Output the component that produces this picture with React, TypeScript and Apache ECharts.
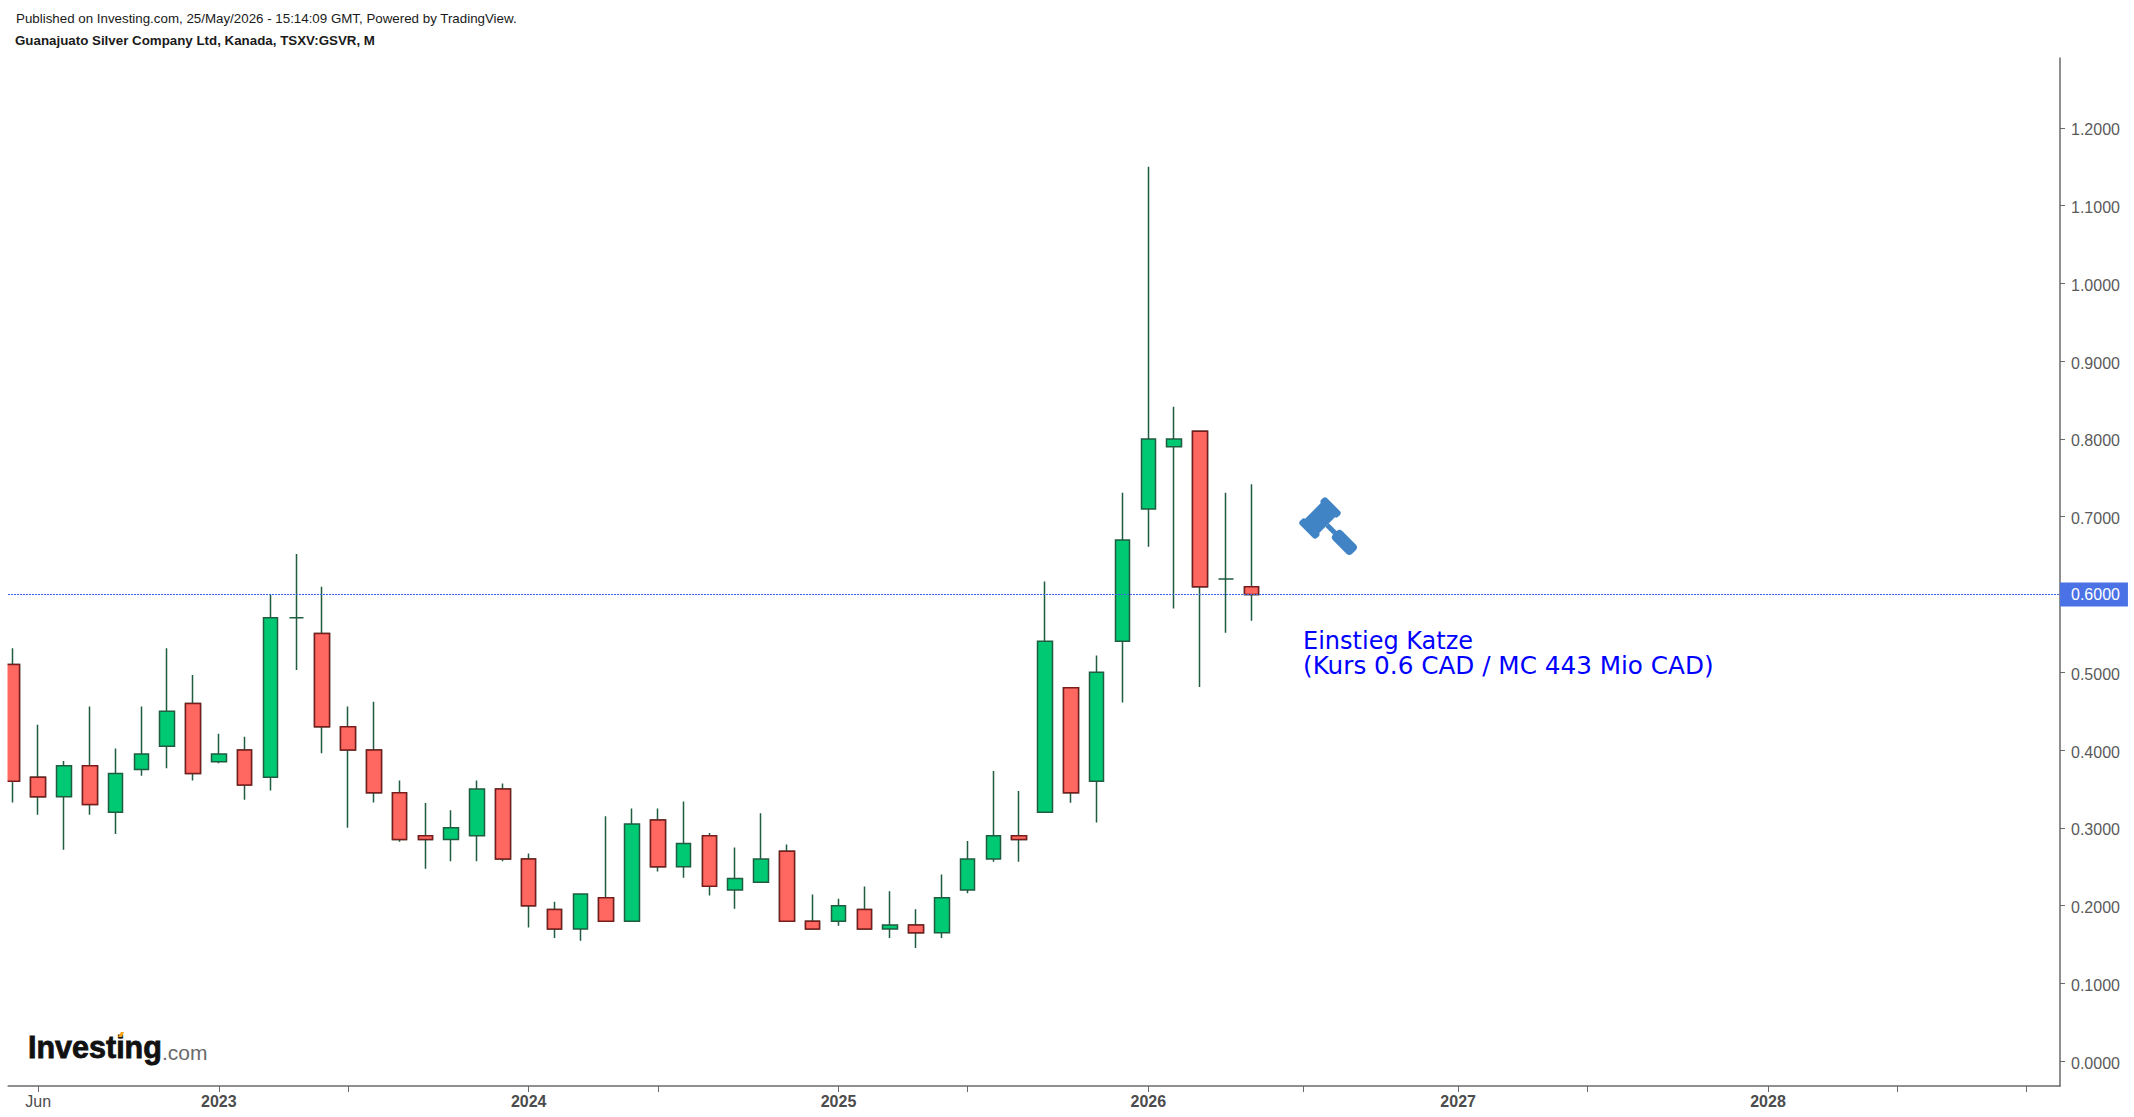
import React, { useEffect, useRef } from "react";
import * as echarts from "echarts";

// Month index 0 = May 2022
const months = [
  "May 22","Jun 22","Jul 22","Aug 22","Sep 22","Oct 22","Nov 22","Dec 22",
  "Jan 23","Feb 23","Mar 23","Apr 23","May 23","Jun 23","Jul 23","Aug 23","Sep 23","Oct 23","Nov 23","Dec 23",
  "Jan 24","Feb 24","Mar 24","Apr 24","May 24","Jun 24","Jul 24","Aug 24","Sep 24","Oct 24","Nov 24","Dec 24",
  "Jan 25","Feb 25","Mar 25","Apr 25","May 25","Jun 25","Jul 25","Aug 25","Sep 25","Oct 25","Nov 25","Dec 25",
  "Jan 26","Feb 26","Mar 26","Apr 26","May 26",
];
const opens = [
  0.51,0.365,0.34,0.38,0.32,0.375,0.405,0.46,
  0.385,0.40,0.365,0.57,0.55,0.43,0.40,0.345,0.29,0.285,0.29,0.35,
  0.26,0.195,0.17,0.21,0.18,0.31,0.25,0.29,0.22,0.23,0.27,0.18,
  0.18,0.195,0.17,0.175,0.165,0.22,0.26,0.29,0.32,0.48,0.36,0.54,
  0.71,0.79,0.81,0.62,0.61,
];
const closes = [
  0.36,0.34,0.38,0.33,0.37,0.395,0.45,0.37,
  0.395,0.355,0.57,0.57,0.43,0.40,0.345,0.285,0.285,0.30,0.35,0.26,
  0.20,0.17,0.215,0.18,0.305,0.25,0.28,0.225,0.235,0.26,0.18,0.17,
  0.20,0.17,0.175,0.165,0.21,0.26,0.29,0.285,0.54,0.345,0.50,0.67,
  0.80,0.80,0.61,0.62,0.60,
];
const lows = [
  0.3325,0.317,0.272,0.317,0.292,0.367,0.3765,0.361,
  0.383,0.336,0.348,0.503,0.396,0.30,0.3325,0.282,0.2475,0.257,0.257,0.257,
  0.172,0.1585,0.155,0.18,0.18,0.244,0.236,0.213,0.196,0.2305,0.18,0.1705,
  0.174,0.1705,0.1585,0.1457,0.1585,0.216,0.2565,0.2563,0.32,0.3323,0.307,0.4613,
  0.6613,0.582,0.4811,0.5507,0.5664,
];
const highs = [
  0.531,0.4325,0.386,0.456,0.402,0.456,0.531,0.4966,
  0.421,0.417,0.60,0.652,0.61,0.456,0.462,0.361,0.332,0.3225,0.361,0.357,
  0.267,0.205,0.215,0.315,0.325,0.325,0.334,0.2935,0.2746,0.3188,0.2785,0.2142,
  0.209,0.2245,0.2185,0.1954,0.24,0.283,0.373,0.3475,0.6166,0.4811,0.5217,0.7308,
  1.15,0.8414,0.811,0.7308,0.7419,
];
const priceLevel = 0.6;
const priceTicks = [0, 0.1, 0.2, 0.3, 0.4, 0.5, 0.6, 0.7, 0.8, 0.9, 1.0, 1.1, 1.2];
const priceLabels = [0, 0.1, 0.2, 0.3, 0.4, 0.5, 0.7, 0.8, 0.9, 1.0, 1.1, 1.2];
const timeTicks = [1, 8, 13, 20, 25, 32, 37, 44, 50, 56, 61, 68, 73, 78];
const timeLabelPositions = [1, 8, 20, 32, 44, 56, 68];
const timeLabelTexts = ["Jun", "2023", "2024", "2025", "2026", "2027", "2028"];

const FONT = "'Liberation Sans', Arial, sans-serif";
const AXIS = "#6a6a6a";
const UP = "#00c973";
const DOWN = "#ff6860";
const WICK = "#1f5c40";
const DOWN_EDGE = "#7a1c1c";
const PRICE = "#4a72e6";
const PRICE_LINE = "#3a64ea";
const GAVEL = "#4084c6";

const allCandles = months.map((_, i) => [i, opens[i], closes[i], lows[i], highs[i]]);
const downBodies = months
  .map((_, i) => [i, opens[i], closes[i], Math.min(opens[i], closes[i]), Math.max(opens[i], closes[i])])
  .filter((d) => d[1] > d[2]);

export default function App() {
  const ref = useRef<HTMLDivElement>(null);
  useEffect(() => {
    document.body.style.margin = "0";
    const chart = echarts.init(ref.current!, null, { renderer: "svg" });
    chart.setOption({
      animation: false,
      backgroundColor: "#ffffff",
      grid: { left: 8, right: 74, top: 58, bottom: 31 },
      xAxis: {
        type: "value",
        min: -0.1665,
        max: 79.31,
        splitLine: { show: false },
        axisLine: { onZero: false, lineStyle: { color: AXIS, width: 1.5 } },
        axisTick: { customValues: timeTicks, length: 6, lineStyle: { color: AXIS, width: 1 } },
        axisLabel: {
          customValues: timeLabelPositions,
          margin: 7,
          fontFamily: FONT,
          fontSize: 16,
          color: "#4c4c4c",
          formatter: (v: number) => {
            const t = timeLabelTexts[timeLabelPositions.indexOf(v)];
            return /^\d+$/.test(t) ? `{y|${t}}` : t;
          },
          rich: { y: { fontFamily: FONT, fontSize: 16, fontWeight: "bold", color: "#4c4c4c" } },
        },
      },
      yAxis: {
        type: "value",
        position: "right",
        min: -0.03188,
        max: 1.2898,
        splitLine: { show: false },
        axisLine: { show: true, onZero: false, lineStyle: { color: AXIS, width: 1.5 } },
        axisTick: { show: true, customValues: priceTicks, length: 5, lineStyle: { color: AXIS, width: 1 } },
        axisLabel: {
          customValues: priceLabels,
          margin: 11,
          fontFamily: FONT,
          fontSize: 16,
          color: "#5a5a5a",
          formatter: (v: number) => `{v|${v.toFixed(4)}}`,
          rich: { v: { fontFamily: FONT, fontSize: 16, color: "#5a5a5a", padding: [4, 0, 0, 0] } },
        },
      },
      series: [
        {
          type: "candlestick",
          name: "GSVR",
          data: allCandles,
          barWidth: 15,
          silent: true,
          itemStyle: { color: UP, color0: DOWN, borderColor: WICK, borderColor0: WICK, borderWidth: 1.5 },
        },
        {
          type: "candlestick",
          name: "GSVR down bodies",
          data: downBodies,
          barWidth: 15,
          silent: true,
          itemStyle: { color: UP, color0: DOWN, borderColor: WICK, borderColor0: DOWN_EDGE, borderWidth: 1.5 },
          markLine: {
            silent: true,
            symbol: "none",
            data: [{ yAxis: priceLevel }],
            lineStyle: { color: PRICE_LINE, type: [2, 1], width: 1 },
            label: {
              show: true,
              position: "end",
              distance: 0,
              formatter: () => priceLevel.toFixed(4),
              backgroundColor: PRICE,
              color: "#ffffff",
              fontFamily: FONT,
              fontSize: 16,
              padding: [4, 8, 4, 11],
            },
          },
        },
      ],
      graphic: [
        // the first candle's body is cut off by the plot's left edge
        { type: "rect", z: 50, shape: { x: 0, y: 58, width: 7.5, height: 1028 }, style: { fill: "#ffffff" } },
        {
          type: "text", x: 16, y: 18,
          style: { text: "Published on Investing.com, 25/May/2026 - 15:14:09 GMT, Powered by TradingView.", fontFamily: FONT, fontSize: 13.33, fill: "#1a1a1a", verticalAlign: "middle" },
        },
        {
          type: "text", x: 15, y: 40,
          style: { text: "Guanajuato Silver Company Ltd, Kanada, TSXV:GSVR, M", fontFamily: FONT, fontSize: 13.33, fontWeight: "bold", fill: "#1a1a1a", verticalAlign: "middle" },
        },
        {
          type: "text", x: 1303, y: 653,
          style: {
            text: "{a|Einstieg Katze}\n{b|(Kurs 0.6 CAD / MC 443 Mio CAD)}",
            verticalAlign: "middle",
            rich: {
              a: { fontFamily: "'DejaVu Sans'", fontSize: 24, lineHeight: 25, fill: "#0000ff" },
              b: { fontFamily: "'DejaVu Sans'", fontSize: 24.7, lineHeight: 25, fill: "#0000ff" },
            },
          },
        },
        {
          type: "text", x: 28, y: 1047,
          style: {
            text: "{a|Investing}{b|.com}",
            verticalAlign: "middle",
            rich: {
              a: { fontFamily: FONT, fontSize: 30.5, fontWeight: "bold", fill: "#111111", stroke: "#111111", lineWidth: 0.8, verticalAlign: "bottom" },
              b: { fontFamily: FONT, fontSize: 21, fill: "#6a6a6a", verticalAlign: "bottom" },
            },
          },
        },
        { type: "polygon", shape: { points: [[118, 1037], [121, 1032], [124, 1032], [122, 1037]] }, style: { fill: "#f7a21b" } },
        {
          type: "group", x: 1320, y: 518, rotation: -Math.PI / 4,
          children: [
            { type: "rect", shape: { x: -10, y: -16, width: 20, height: 32 }, style: { fill: GAVEL } },
            { type: "rect", shape: { x: -12, y: -19, width: 24, height: 8, r: 3 }, style: { fill: GAVEL } },
            { type: "rect", shape: { x: -12, y: 11, width: 24, height: 8, r: 3 }, style: { fill: GAVEL } },
            { type: "rect", shape: { x: 10, y: -2.5, width: 13, height: 5 }, style: { fill: GAVEL } },
            { type: "rect", shape: { x: 21, y: -6.5, width: 27, height: 13, r: 4 }, style: { fill: GAVEL } },
          ],
        },
      ],
    });
    return () => chart.dispose();
  }, []);
  return <div ref={ref} style={{ width: 2134, height: 1117, position: "absolute", left: 0, top: 0 }} />;
}
